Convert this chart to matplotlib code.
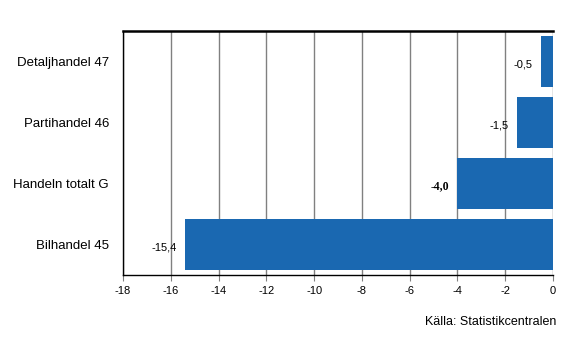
import numpy as np
import matplotlib.pyplot as plt

categories = ["Detaljhandel 47", "Partihandel 46", "Handeln totalt G", "Bilhandel 45"]
values = [-0.5, -1.5, -4.0, -15.4]
labels = ["-0,5", "-1,5", "-4,0", "-15,4"]
xticks = np.arange(-18, 1, 2)

fig = plt.figure(figsize=(5.66, 3.61), dpi=100)
ax = fig.add_axes([123/566, 1 - 275/361, 430/566, 244/361])

y = np.arange(len(categories))
ax.barh(y, values, height=0.84, color="#1a68b1", zorder=2)
ax.set_ylim(len(categories) - 0.5, -0.5)
ax.set_xlim(-18, 0)
ax.set_xticks(xticks)
ax.set_xticklabels([str(t) for t in xticks], fontsize=8, family="Liberation Sans")
ax.set_yticks(y)
ax.set_yticklabels(categories, fontsize=9.5, family="Liberation Sans")
ax.tick_params(axis="y", length=0, pad=10)
ax.tick_params(axis="x", length=4, color="#808080", pad=4)
ax.grid(axis="x", color="#808080", linewidth=1, zorder=1)

for s in ["left", "bottom"]:
    ax.spines[s].set_linewidth(1)
    ax.spines[s].set_color("black")
ax.spines["top"].set_linewidth(1.8)
ax.spines["right"].set_visible(False)

# value labels sit just left of each bar end, slightly below centre
for yi, v, lab in zip(y, values, labels):
    if lab == "-4,0":
        ax.text(v - 0.35, yi + 0.05, lab, ha="right", va="center", fontsize=8.5,
                family="Liberation Serif", fontweight="bold")
    else:
        ax.text(v - 0.35, yi + 0.05, lab, ha="right", va="center", fontsize=8,
                family="Liberation Sans")

fig.text(556/566, 1 - 322/361, "Källa: Statistikcentralen", ha="right", va="center",
         fontsize=9, family="Liberation Sans")

fig.savefig("out.png", dpi=100)
